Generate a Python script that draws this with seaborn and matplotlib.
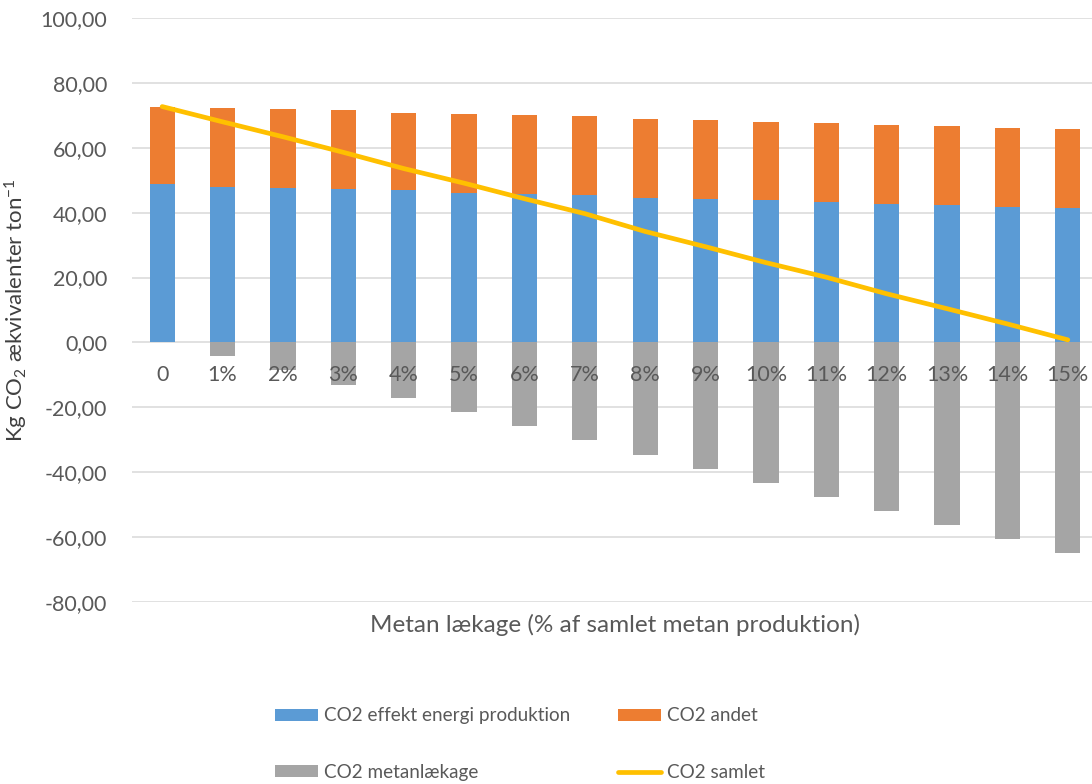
import numpy as np
import pandas as pd
import matplotlib
matplotlib.use("Agg")
import matplotlib.pyplot as plt
from matplotlib.patches import Patch
from matplotlib.lines import Line2D
import seaborn as sns

# Leakage levels and CO2 contributions (kg CO2-eq per ton)
categories = ["0", "1%", "2%", "3%", "4%", "5%", "6%", "7%",
              "8%", "9%", "10%", "11%", "12%", "13%", "14%", "15%"]
co2_energi = [48.8, 48.0, 47.6, 47.2, 46.9, 46.1, 45.8, 45.3,
              44.5, 44.1, 43.8, 43.4, 42.7, 42.3, 41.8, 41.4]
co2_andet = [23.9, 24.3, 24.4, 24.4, 23.9, 24.4, 24.3, 24.4,
             24.5, 24.4, 24.2, 24.3, 24.2, 24.3, 24.4, 24.4]
co2_metan = [0.0, -4.3, -8.6, -13.0, -17.2, -21.4, -25.8, -30.0,
             -34.8, -39.0, -43.4, -47.6, -51.9, -56.2, -60.5, -65.0]
y_ticks = [-80, -60, -40, -20, 0, 20, 40, 60, 80, 100]

legend_labels = ["CO2 effekt energi produktion", "CO2 metanlækage",
                 "CO2 andet", "CO2 samlet"]

C_BLUE = "#5B9BD5"
C_ORANGE = "#ED7D31"
C_GRAY = "#A5A5A5"
C_YELLOW = "#FFC000"
C_TEXT = "#595959"
C_GRID = "#D9D9D9"

df = pd.DataFrame({
    "kat": categories,
    "energi": co2_energi,
    "andet": co2_andet,
    "metan": co2_metan,
})
df["top"] = df["energi"] + df["andet"]
df["samlet"] = df["energi"] + df["andet"] + df["metan"]
df["pos"] = np.arange(len(df))

sns.set_style("white")
plt.rcParams["font.family"] = ["Lato", "DejaVu Sans"]
plt.rcParams["mathtext.fontset"] = "custom"
plt.rcParams["mathtext.rm"] = "Lato"
plt.rcParams["mathtext.it"] = "Lato:italic"

fig = plt.figure(figsize=(10.92, 7.84), dpi=100)
ax = fig.add_axes([132 / 1092, 1 - 602 / 784, 966 / 1092, 584 / 784])

bar_w = 0.42
# stacked bars: orange drawn to the stack top, blue over it
sns.barplot(data=df, x="kat", y="top", color=C_ORANGE, saturation=1,
            width=bar_w, linewidth=0, ax=ax, zorder=2)
sns.barplot(data=df, x="kat", y="energi", color=C_BLUE, saturation=1,
            width=bar_w, linewidth=0, ax=ax, zorder=2)
sns.barplot(data=df, x="kat", y="metan", color=C_GRAY, saturation=1,
            width=bar_w, linewidth=0, ax=ax, zorder=2)
sns.lineplot(data=df, x="pos", y="samlet", color=C_YELLOW, linewidth=3.4,
             solid_capstyle="round", ax=ax, zorder=4)

ax.set_xlim(-0.5, len(categories) - 0.5)
ax.set_ylim(-80, 100)
ax.set_yticks(y_ticks)
ax.set_yticklabels([f"{v:.2f}".replace(".", ",") for v in y_ticks])
ax.set_xticks(np.arange(len(categories)))
ax.set_xticklabels(categories)

# tick labels sit on top of the bars; gridlines go behind them
ax.set_axisbelow(False)
ax.grid(False)
for v in y_ticks:
    ax.axhline(v, color=C_GRID, linewidth=1.1, zorder=0)

for s in ax.spines.values():
    s.set_visible(False)
ax.spines["bottom"].set_position(("data", 0))

ax.tick_params(axis="x", length=0, pad=16, labelsize=15.5, labelcolor=C_TEXT)
ax.tick_params(axis="y", length=0, pad=18, labelsize=15.5, labelcolor=C_TEXT)

ax.set_xlabel("Metan lækage (% af samlet metan produktion)",
              fontsize=17.5, color=C_TEXT)
ax.xaxis.set_label_coords(0.5, -0.02)
ax.set_ylabel(r"Kg CO$_2$ ækvivalenter ton$^{-1}$", fontsize=16, color="#404040")
ax.yaxis.set_label_coords(-0.106, 0.5)

handles = [
    Patch(facecolor=C_BLUE, edgecolor="none"),
    Patch(facecolor=C_GRAY, edgecolor="none"),
    Patch(facecolor=C_ORANGE, edgecolor="none"),
    Line2D([0], [0], color=C_YELLOW, linewidth=3.4),
]
leg = fig.legend(handles, legend_labels, ncol=2, loc="center",
                 bbox_to_anchor=(520 / 1092, 1 - 744 / 784),
                 frameon=False, fontsize=13.6, handlelength=2.3,
                 handleheight=0.6, handletextpad=0.32, columnspacing=2.5,
                 labelspacing=2.1)
for t in leg.get_texts():
    t.set_color(C_TEXT)

fig.savefig("out.png", dpi=100)
